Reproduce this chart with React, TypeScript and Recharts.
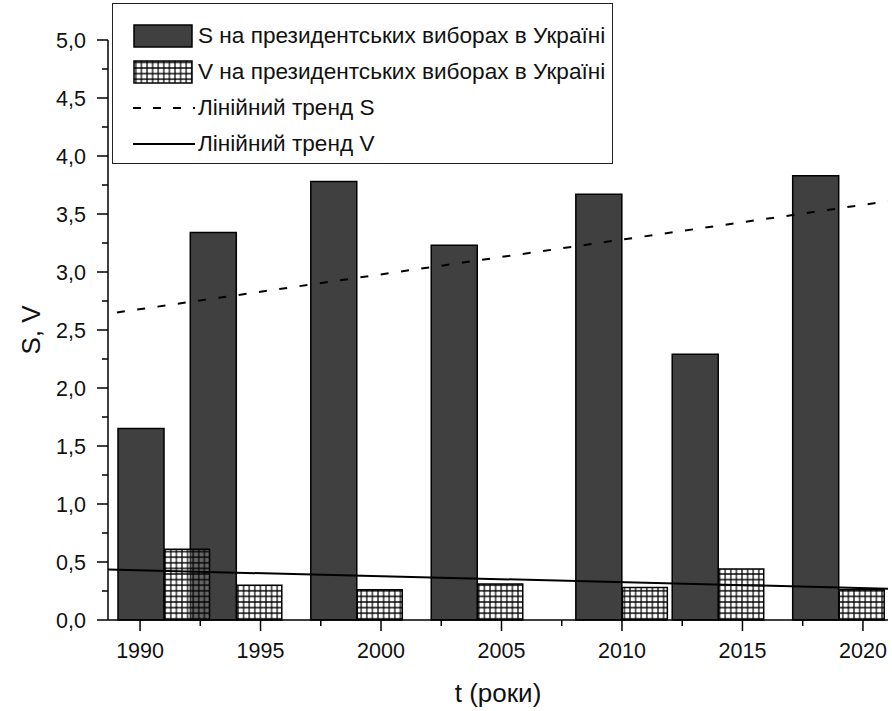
import { Bar, ComposedChart, Legend, Rectangle, ReferenceLine, XAxis, YAxis } from "recharts";

// presidential elections, values
const electionYears = [1991, 1994, 1999, 2004, 2010, 2014, 2019];
const sValues = [1.65, 3.34, 3.78, 3.23, 3.67, 2.29, 3.83];
const vValues = [0.61, 0.3, 0.26, 0.31, 0.28, 0.44, 0.26];

// linear trends, endpoints at the plot edges
const xDomain = [1988.67, 2021.04];
const trendS = [2.64, 3.61];
const trendV = [0.435, 0.27];

const xTicks = [1990, 1992.5, 1995, 1997.5, 2000, 2002.5, 2005, 2007.5, 2010, 2012.5, 2015, 2017.5, 2020];
const yTicks = [0, 0.25, 0.5, 0.75, 1, 1.25, 1.5, 1.75, 2, 2.25, 2.5, 2.75, 3, 3.25, 3.5, 3.75, 4, 4.25, 4.5, 4.75, 5];

const seriesNames = [
  "S на президентських виборах в Україні",
  "V на президентських виборах в Україні",
  "Лінійний тренд S",
  "Лінійний тренд V",
];

const data = electionYears.map((t, i) => ({ t, s: sValues[i], v: vValues[i] }));

const font = '"Liberation Sans", Arial, sans-serif';
const barFill = "#404040";

function GridPattern({ id }: { id: string }) {
  return (
    <pattern id={id} width={5.6} height={5.6} patternUnits="userSpaceOnUse">
      <rect width={5.6} height={5.6} fill="#fff" fillOpacity={0.2} />
      <path d="M2.8 0V5.6M0 2.8H5.6" stroke="#000" strokeWidth={1.2} />
    </pattern>
  );
}

// S sits just left of the election year, V just right of it
const LeftBar = (p: any) => <Rectangle {...p} x={p.x - p.width / 2} />;
const RightBar = (p: any) => <Rectangle {...p} x={p.x + p.width / 2} />;

function YTick({ x, y, payload }: any) {
  const v = payload.value as number;
  const major = Math.abs(v * 2 - Math.round(v * 2)) < 1e-6;
  return (
    <g>
      <line x1={x - (major ? 11 : 6)} x2={x} y1={y} y2={y} stroke="#000" strokeWidth={1.5} />
      {major && (
        <text x={x - 22} y={y} dy="0.36em" textAnchor="end" fontSize={21.5} fontFamily={font} fill="#111">
          {v.toFixed(1).replace(".", ",")}
        </text>
      )}
    </g>
  );
}

function XTick({ x, y, payload }: any) {
  const v = payload.value as number;
  const major = v % 5 === 0;
  return (
    <g>
      <line x1={x} x2={x} y1={y} y2={y + (major ? 11 : 6)} stroke="#000" strokeWidth={1.5} />
      {major && (
        <text x={x} y={y + 38} textAnchor="middle" fontSize={21.5} fontFamily={font} fill="#111">
          {v}
        </text>
      )}
    </g>
  );
}

function LegendBox() {
  const rowTop = [14, 50, 86, 122];
  const swatch = (i: number) => {
    if (i === 0) return <rect x={1} y={7} width={58} height={22} fill={barFill} stroke="#000" strokeWidth={1.5} />;
    if (i === 1) return <rect x={1} y={7} width={58} height={22} fill="url(#vgridLegend)" stroke="#000" strokeWidth={1.5} />;
    if (i === 2) return <line x1={0} x2={62} y1={18} y2={18} stroke="#000" strokeWidth={2} strokeDasharray="8 12" />;
    return <line x1={0} x2={62} y1={18} y2={18} stroke="#000" strokeWidth={2} />;
  };
  return (
    <div
      style={{
        position: "relative",
        width: 501,
        height: 161,
        boxSizing: "border-box",
        border: "1px solid #222",
        background: "#fff",
        fontFamily: font,
        fontSize: 22.6,
        color: "#111",
      }}
    >
      {seriesNames.map((name, i) => (
        <div key={name} style={{ position: "absolute", left: 20, top: rowTop[i], height: 36, display: "flex", alignItems: "center", whiteSpace: "nowrap" }}>
          <svg width={64} height={36} style={{ display: "block" }}>
            {i === 1 && (
              <defs>
                <GridPattern id="vgridLegend" />
              </defs>
            )}
            {swatch(i)}
          </svg>
          <span style={{ marginLeft: 1 }}>{name}</span>
        </div>
      ))}
    </div>
  );
}

export default function App() {
  return (
    <div style={{ position: "absolute", left: 0, top: 0, background: "#fff" }}>
      <ComposedChart width={892} height={711} data={data} margin={{ top: 40, right: 4, bottom: 0, left: 0 }}>
        <defs>
          <GridPattern id="vgrid" />
        </defs>
        <XAxis
          xAxisId="main"
          dataKey="t"
          type="number"
          domain={xDomain}
          allowDataOverflow
          ticks={xTicks}
          interval={0}
          height={91}
          tickSize={0}
          tickMargin={0}
          tickLine={false}
          tick={<XTick />}
          axisLine={{ stroke: "#000", strokeWidth: 1.5 }}
        />
        <XAxis xAxisId="v" dataKey="t" type="number" domain={xDomain} allowDataOverflow hide height={91} />
        <YAxis
          type="number"
          domain={[0, 5]}
          ticks={yTicks}
          interval={0}
          width={108}
          tickSize={0}
          tickMargin={0}
          tickLine={false}
          tick={<YTick />}
          axisLine={{ stroke: "#000", strokeWidth: 1.5 }}
        />
        <Legend layout="vertical" align="center" verticalAlign="middle" content={<LegendBox />} wrapperStyle={{ left: 112, top: 3, width: 501, height: 161 }} />
        <Bar xAxisId="main" dataKey="s" name={seriesNames[0]} barSize={46} fill={barFill} stroke="#000" strokeWidth={1.5} shape={LeftBar} isAnimationActive={false} />
        <Bar xAxisId="v" dataKey="v" name={seriesNames[1]} barSize={45} fill="url(#vgrid)" stroke="#000" strokeWidth={1.5} shape={RightBar} isAnimationActive={false} />
        <ReferenceLine
          xAxisId="main"
          segment={[
            { x: xDomain[0], y: trendS[0] },
            { x: xDomain[1], y: trendS[1] },
          ]}
          stroke="#000"
          strokeWidth={2}
          strokeDasharray="8 12.5"
          strokeDashoffset={11.5}
          ifOverflow="visible"
        />
        <ReferenceLine
          xAxisId="main"
          segment={[
            { x: xDomain[0], y: trendV[0] },
            { x: xDomain[1], y: trendV[1] },
          ]}
          stroke="#000"
          strokeWidth={2}
          ifOverflow="visible"
        />
        <text x={31} y={330} transform="rotate(-90 31 330)" dy="0.36em" textAnchor="middle" fontSize={26} fontFamily={font} fill="#111">
          S, V
        </text>
        <text x={498} y={702} textAnchor="middle" fontSize={26} fontFamily={font} fill="#111">
          t (роки)
        </text>
      </ComposedChart>
    </div>
  );
}
